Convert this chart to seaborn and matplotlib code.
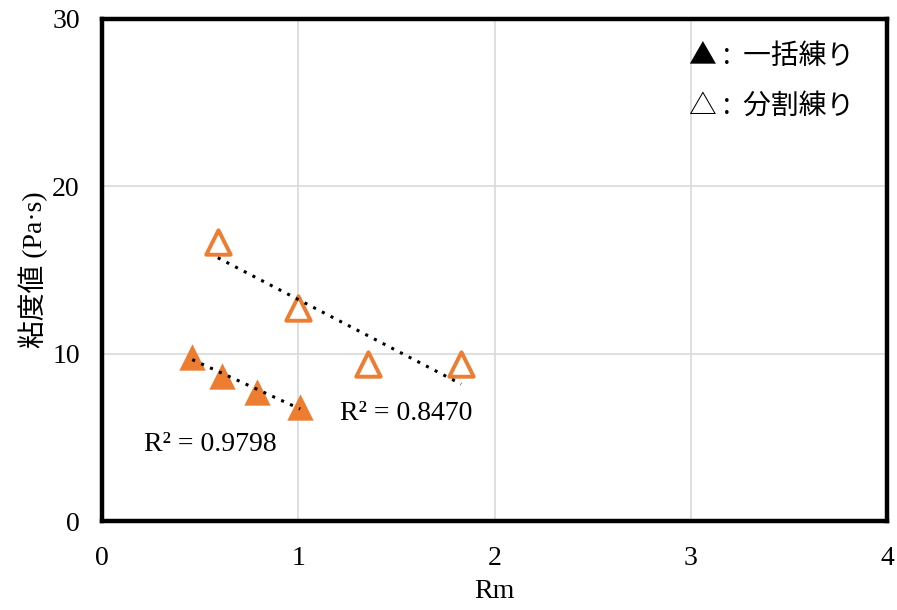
import matplotlib
matplotlib.use("Agg")
import matplotlib.pyplot as plt
import seaborn as sns
import pandas as pd

# data
ikkatsu_rm = [0.46, 0.61, 0.79, 1.01]
ikkatsu_visc = [9.83, 8.68, 7.70, 6.84]
bunkatsu_rm = [0.59, 1.00, 1.357, 1.83]
bunkatsu_visc = [16.7, 12.75, 9.38, 9.38]
x_ticks = [0, 1, 2, 3, 4]
y_ticks = [0, 10, 20, 30]
r2_ikkatsu = "R² = 0.9798"
r2_bunkatsu = "R² = 0.8470"
legend_labels = ["▲ :  一括練り", "△ :  分割練り"]

sns.set_theme(style="white")
plt.rcParams["font.family"] = ["Liberation Serif", "Noto Sans CJK JP", "DejaVu Sans"]
plt.rcParams["text.color"] = "black"
plt.rcParams["axes.labelcolor"] = "black"
plt.rcParams["xtick.color"] = "black"
plt.rcParams["ytick.color"] = "black"

df1 = pd.DataFrame({"Rm": ikkatsu_rm, "visc": ikkatsu_visc})
df2 = pd.DataFrame({"Rm": bunkatsu_rm, "visc": bunkatsu_visc})

fig = plt.figure(figsize=(8.97, 6.10), dpi=100)
ax = fig.add_axes([0.1137, 0.1459, 0.8752, 0.823])

orange = "#ED7D31"
ax.grid(True, color="#d9d9d9", linewidth=1.2, zorder=0)
ax.set_axisbelow(True)

# trend lines (linear fits)
sns.regplot(data=df1, x="Rm", y="visc", scatter=False, ci=None, ax=ax,
            line_kws=dict(color="black", linestyle=(0, (1, 2.2)), linewidth=2.2, zorder=3))
sns.regplot(data=df2, x="Rm", y="visc", scatter=False, ci=None, ax=ax,
            line_kws=dict(color="black", linestyle=(0, (1, 2.2)), linewidth=2.2, zorder=3))

sns.scatterplot(data=df1, x="Rm", y="visc", marker="^", s=360, color=orange,
                edgecolor=orange, linewidth=0, ax=ax, zorder=2)
sns.scatterplot(data=df2, x="Rm", y="visc", marker="^", s=310, facecolor="white",
                edgecolor=orange, linewidth=2.8, ax=ax, zorder=2)

ax.set_xlim(0, 4)
ax.set_ylim(0, 30)
ax.set_xticks(x_ticks)
ax.set_yticks(y_ticks)
ax.set_xticklabels([str(v) for v in x_ticks], fontsize=20, family="Liberation Serif")
ax.set_yticklabels([str(v) for v in y_ticks], fontsize=20, family="Liberation Serif")
ax.tick_params(axis="x", length=0, pad=18)
ax.tick_params(axis="y", length=0, pad=16)

for sp in ax.spines.values():
    sp.set_visible(True)
    sp.set_color("black")
    sp.set_linewidth(3.2)

ax.set_xlabel("Rm", fontsize=20, family="Liberation Serif", labelpad=6)
ax.set_ylabel("粘度値 (Pa·s)", fontsize=20,
              family=["Liberation Serif", "Noto Sans CJK JP"], labelpad=3)

ax.text(0.55, 4.6, r2_ikkatsu, fontsize=20, family="Liberation Serif",
        ha="center", va="center")
ax.text(1.55, 6.4, r2_bunkatsu, fontsize=20, family="Liberation Serif",
        ha="center", va="center")

ax.text(2.99, 27.8, legend_labels[0], fontsize=20, family="Noto Sans CJK JP",
        ha="left", va="center")
ax.text(2.99, 24.8, legend_labels[1], fontsize=20, family="Noto Sans CJK JP",
        ha="left", va="center")

fig.savefig("out.png", dpi=100)
